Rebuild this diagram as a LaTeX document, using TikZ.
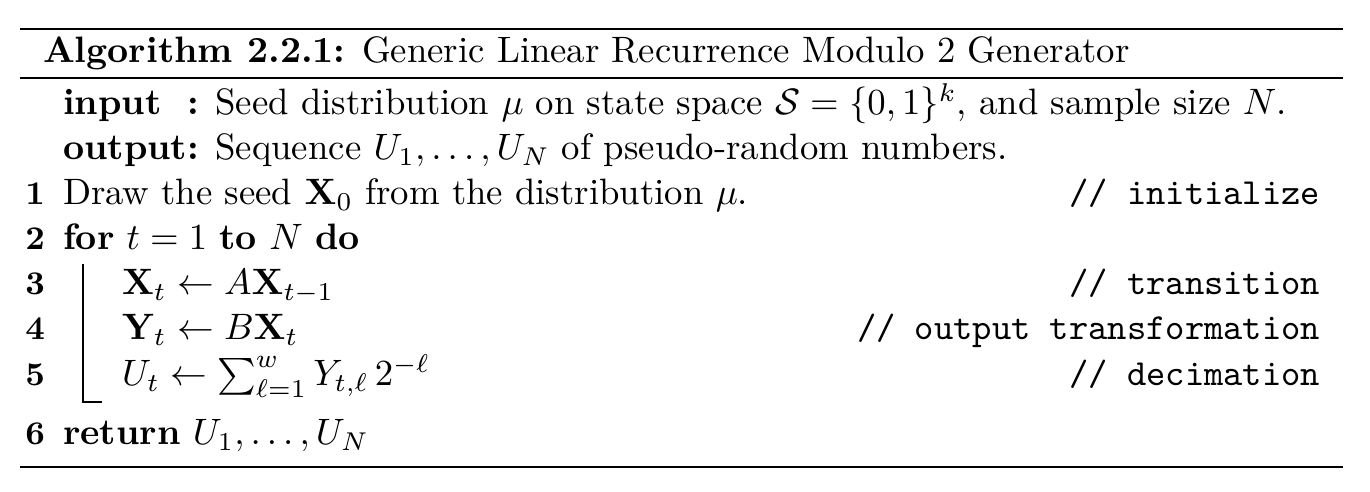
\documentclass[tikz,border=0pt]{standalone}
\usepackage{amsmath,amssymb}
\begin{document}
\begin{tikzpicture}[x=0.2722pt,y=-0.2722pt,
  txt/.style={anchor=base west,inner sep=0pt,outer sep=0pt},
  num/.style={anchor=base east,inner sep=0pt,outer sep=0pt,font=\small\bfseries},
  cmt/.style={anchor=base east,inner sep=0pt,outer sep=0pt,font=\ttfamily},
  thickrule/.style={line width=0.8pt},
  thinrule/.style={line width=0.55pt}]
\useasboundingbox (0,0) rectangle (1370,492);
% rules
\coordinate (t1) at (20,29);  \coordinate (t2) at (1343,29);
\coordinate (m1) at (20,78);  \coordinate (m2) at (1343,78);
\coordinate (b1) at (20,467); \coordinate (b2) at (1343,467);
\draw[thickrule] (t1) -- (t2);
\draw[thinrule] (m1) -- (m2);
\draw[thickrule] (b1) -- (b2);
% title
\node[txt] (title) at (43,63) {\textbf{Algorithm 2.2.1:} Generic Linear Recurrence Modulo 2 Generator};
% input/output
\node[txt] (inp) at (63,115) {\textbf{\makebox[0pt][l]{input}\phantom{output}:} Seed distribution $\mu$ on state space $\mathcal{S}=\{0,1\}^k$, and sample size $N$.};
\node[txt] (outp) at (63,160) {\textbf{output:} Sequence $U_1,\dots,U_N$ of pseudo-random numbers.};
% lines
\node[num] (n1) at (45,205) {1};
\node[txt] (l1) at (63,205) {Draw the seed $\mathbf{X}_0$ from the distribution $\mu$.};
\node[cmt] (c1) at (1320,205) {// initialize};
\node[num] (n2) at (45,250) {2};
\node[txt] (l2) at (63,250) {\textbf{for} $t=1$ \textbf{to} $N$ \textbf{do}};
\node[num] (n3) at (45,295) {3};
\node[txt] (l3) at (122,295) {$\mathbf{X}_t \leftarrow A\mathbf{X}_{t-1}$};
\node[cmt] (c3) at (1320,295) {// transition};
\node[num] (n4) at (45,340) {4};
\node[txt] (l4) at (122,340) {$\mathbf{Y}_t \leftarrow B\mathbf{X}_t$};
\node[cmt] (c4) at (1320,340) {// output transformation};
\node[num] (n5) at (45,386) {5};
\node[txt] (l5) at (122,386) {$U_t \leftarrow \sum_{\ell=1}^{w} Y_{t,\ell}\,2^{-\ell}$};
\node[cmt] (c5) at (1320,386) {// decimation};
\node[num] (n6) at (45,445) {6};
\node[txt] (l6) at (63,445) {\textbf{return} $U_1,\dots,U_N$};
% block bar
\coordinate (bar1) at (83,264);
\coordinate (bar2) at (83,402);
\coordinate (bar3) at (102,402);
\draw[line width=0.4pt] (bar1) -- (bar2) -- (bar3);
\end{tikzpicture}
\end{document}
